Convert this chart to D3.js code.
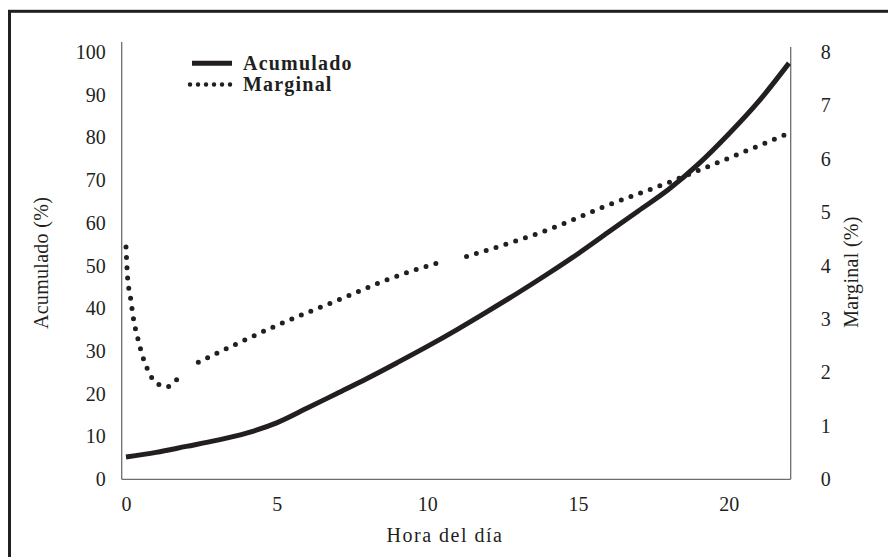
<!DOCTYPE html>
<html><head><meta charset="utf-8">
<script src="https://cdn.jsdelivr.net/npm/d3@7"></script>
<style>
html,body{margin:0;padding:0;background:#fff;}
svg{display:block;font-family:"Liberation Serif","Times New Roman",serif;}
</style></head>
<body>
<svg id="chart" width="888" height="557"></svg>
<script>
// ---- data ----
const hours = [0,1,2,3,4,5,6,7,8,9,10,11,12,13,14,15,16,17,18,19,20,21,22];
const acumulado = [5.2,6.3,7.7,9.1,10.8,13.2,16.6,20.1,23.6,27.3,31.1,35.1,39.3,43.6,48.1,52.8,57.8,62.8,67.8,73.8,80.8,88.5,97.4];
const marginalHours = [0,0.05,0.15,0.25,0.4,0.6,0.75,0.92,1.35,1.65,1.9,2.15,2.4,5,7.4,8.45,10.5,10.9,11.3,14.5,15.8,18.2,18.9,22];
const marginalValues = [4.35,3.8,3.4,3.0,2.62,2.22,2.02,1.85,1.73,1.85,1.96,null,2.19,2.88,3.44,3.69,4.08,null,4.17,4.78,5.09,5.6,5.76,6.48];
const xTicks = [0,5,10,15,20];
const leftTicks = [0,10,20,30,40,50,60,70,80,90,100];
const rightTicks = [0,1,2,3,4,5,6,7,8];
const seriesNames = ["Acumulado","Marginal"];
const xTitle = "Hora del día";
const leftTitle = "Acumulado (%)";
const rightTitle = "Marginal (%)";

// ---- layout ----
const ink = "#231f20";
const axisCol = "#6d6e71";
const svg = d3.select("#chart");

// frame
svg.append("rect").attr("x",9.5).attr("y",11.3).attr("width",900).attr("height",600)
  .attr("fill","none").attr("stroke",ink).attr("stroke-width",3);

const x = d3.scaleLinear().domain([0,22]).range([126,789]);
const yL = d3.scaleLinear().domain([0,100]).range([479.3,52]);
const yR = d3.scaleLinear().domain([0,8]).range([479.3,52]);

// axis lines
svg.append("line").attr("x1",121.7).attr("x2",121.7).attr("y1",42).attr("y2",479.3)
  .attr("stroke",axisCol).attr("stroke-width",1.3);
svg.append("line").attr("x1",790.7).attr("x2",790.7).attr("y1",47).attr("y2",479.3)
  .attr("stroke",axisCol).attr("stroke-width",1.3);
svg.append("line").attr("x1",121.7).attr("x2",790.7).attr("y1",479.3).attr("y2",479.3)
  .attr("stroke",axisCol).attr("stroke-width",1.3);

// left axis labels
const gL = svg.append("g").attr("transform","translate(121.7,0)")
  .call(d3.axisLeft(yL).tickValues(leftTicks).tickSize(0).tickPadding(16));
gL.select(".domain").remove();
gL.selectAll("text").attr("font-size",20).attr("fill",ink).attr("font-family","Liberation Serif");

const gR = svg.append("g").attr("transform","translate(790.7,0)")
  .call(d3.axisRight(yR).tickValues(rightTicks).tickSize(0).tickPadding(30));
gR.select(".domain").remove();
gR.selectAll("text").attr("font-size",20).attr("fill",ink).attr("font-family","Liberation Serif");

const gX = svg.append("g").attr("transform","translate(0,479.3)")
  .call(d3.axisBottom(x).tickValues(xTicks).tickSize(0).tickPadding(18));
gX.select(".domain").remove();
gX.selectAll("text").attr("font-size",20).attr("fill",ink).attr("font-family","Liberation Serif");

// titles
svg.append("text").attr("x",445).attr("y",542).attr("text-anchor","middle")
  .attr("font-size",20).attr("letter-spacing",1.5).attr("fill",ink).text(xTitle);
svg.append("text").attr("transform","translate(48,263) rotate(-90)").attr("text-anchor","middle")
  .attr("font-size",20).attr("letter-spacing",0.3).attr("fill",ink).text(leftTitle);
svg.append("text").attr("transform","translate(858,272) rotate(-90)").attr("text-anchor","middle")
  .attr("font-size",20).attr("letter-spacing",0.3).attr("fill",ink).text(rightTitle);

// series
const lineA = d3.line().x((d,i)=>x(hours[i])).y(d=>yL(d)).curve(d3.curveMonotoneX);
svg.append("path").attr("d",lineA(acumulado)).attr("fill","none").attr("stroke",ink)
  .attr("stroke-width",5);

const mData = marginalHours.map((h,i)=>({h, v: marginalValues[i]}));
const lineM = d3.line().defined(d=>d.v!==null).x(d=>x(d.h)).y(d=>yR(d.v)).curve(d3.curveMonotoneX);
svg.append("path").attr("d",lineM(mData)).attr("fill","none").attr("stroke",ink)
  .attr("stroke-width",5).attr("stroke-linecap","round").attr("stroke-dasharray","0 10.3");

// legend
const leg = svg.append("g");
leg.append("line").attr("x1",192).attr("x2",232).attr("y1",63.3).attr("y2",63.3)
  .attr("stroke",ink).attr("stroke-width",5);
leg.append("line").attr("x1",190).attr("x2",237).attr("y1",84.5).attr("y2",84.5)
  .attr("stroke",ink).attr("stroke-width",4.5).attr("stroke-linecap","round").attr("stroke-dasharray","0 8");
leg.append("text").attr("x",243).attr("y",69.5).attr("font-size",20).attr("letter-spacing",1.2).attr("font-weight","bold")
  .attr("fill",ink).text(seriesNames[0]);
leg.append("text").attr("x",243).attr("y",91).attr("font-size",20).attr("letter-spacing",1.2).attr("font-weight","bold")
  .attr("fill",ink).text(seriesNames[1]);
</script>
</body></html>
